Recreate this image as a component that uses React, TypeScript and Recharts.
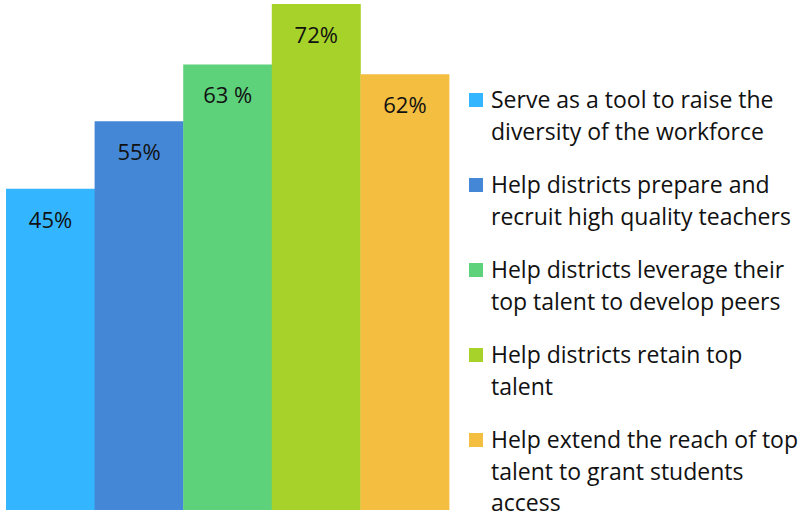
import { BarChart, Bar, Cell, XAxis, YAxis, LabelList, Legend } from "recharts";

const categories = [
  "Serve as a tool to raise the\ndiversity of the workforce",
  "Help districts prepare and\nrecruit high quality teachers",
  "Help districts leverage their\ntop talent to develop peers",
  "Help districts retain top\ntalent",
  "Help extend the reach of top\ntalent to grant students\naccess",
];
const values = [45.7, 55.3, 63.4, 72, 62];
const valueLabels = ["45%", "55%", "63 %", "72%", "62%"];
const colors = ["#33B6FF", "#4487D6", "#5DD27B", "#A7D22A", "#F4BF41"];

const FONT = "'Open Sans', sans-serif";

const data = categories.map((name, i) => ({
  name,
  value: values[i],
  label: valueLabels[i],
}));

function BarLabel(props: any) {
  const { x, y, width, index } = props;
  return (
    <text
      x={Number(x) + Number(width) / 2}
      y={Number(y) + 30}
      textAnchor="middle"
      dominantBaseline="central"
      fontFamily={FONT}
      fontSize={22}
      fill="#111"
    >
      {valueLabels[index]}
    </text>
  );
}

function LegendBox() {
  return (
    <div style={{ fontFamily: FONT, fontSize: 23, color: "#111" }}>
      {categories.map((c, i) => (
        <div key={i} style={{ display: "flex", alignItems: "flex-start", marginBottom: 22 }}>
          <span
            style={{
              width: 14,
              height: 14,
              background: colors[i],
              marginTop: 9,
              marginRight: 8,
              flexShrink: 0,
            }}
          />
          <span style={{ whiteSpace: "pre-line", lineHeight: "31.5px" }}>{c}</span>
        </div>
      ))}
    </div>
  );
}

export default function App() {
  return (
    <div>
      <style>{`body{margin:0}`}</style>
      <BarChart
        width={804}
        height={518}
        data={data}
        margin={{ top: 4, right: 355, left: 6, bottom: 8 }}
        barCategoryGap={0}
      >
        <XAxis dataKey="name" hide />
        <YAxis hide domain={[0, 72]} />
        <Legend
          layout="vertical"
          align="center"
          verticalAlign="middle"
          content={() => <LegendBox />}
          wrapperStyle={{ left: 469, top: 84, width: 335 }}
        />
        <Bar dataKey="value" isAnimationActive={false}>
          {data.map((d, i) => (
            <Cell key={d.name} fill={colors[i]} />
          ))}
          <LabelList dataKey="label" content={BarLabel} />
        </Bar>
      </BarChart>
    </div>
  );
}
